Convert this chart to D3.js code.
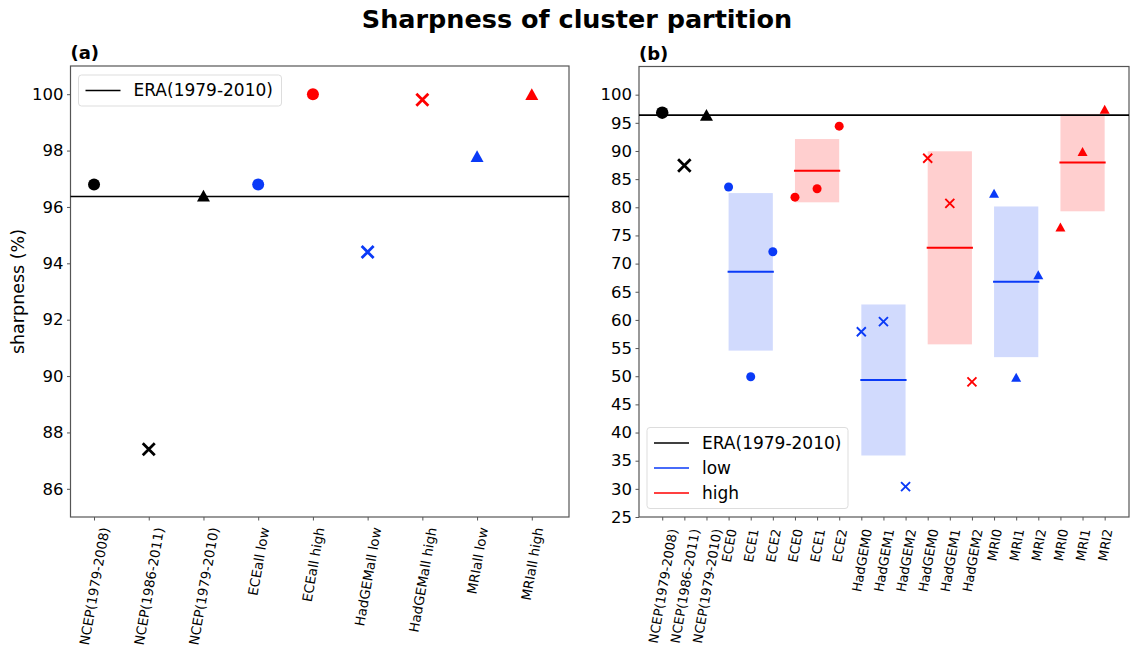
<!DOCTYPE html>
<meta charset="utf-8">
<style>
body { margin: 0; background: #fff; }
text { font-family: "DejaVu Sans", sans-serif; fill: #000; }
.axis path, .axis line { stroke: #555; }
.axis .tick text { font-size: 16.5px; }
.xaxis .tick text { font-size: 13.4px; }
.legend text { font-size: 17px; }
</style>
<svg width="1130" height="647"></svg>
<script src="https://d3js.org/d3.v7.min.js"></script>
<script>

// ---- panel (a) data ----
var catsA = ["NCEP(1979-2008)", "NCEP(1986-2011)", "NCEP(1979-2010)", "ECEall low", "ECEall high",
             "HadGEMall low", "HadGEMall high", "MRIall low", "MRIall high"];
var valsA = [96.8, 87.4, 96.4, 96.8, 100.0, 94.4, 99.8, 97.8, 100.0];
var kindA = ["ref", "ref", "ref", "low", "high", "low", "high", "low", "high"];
var markA = ["o", "x", "^", "o", "o", "x", "x", "^", "^"];
var eraA = 96.37;
var yTicksA = [86, 88, 90, 92, 94, 96, 98, 100];

// ---- panel (b) data ----
var refCatsB = ["NCEP(1979-2008)", "NCEP(1986-2011)", "NCEP(1979-2010)"];
var refValsB = [96.8, 87.4, 96.4];
var refMarkB = ["o", "x", "^"];
var models = ["ECE", "HadGEM", "MRI"];
var modelMark = ["o", "x", "^"];
var eceLow = [83.6, 49.9, 72.1];
var eceHigh = [81.8, 83.3, 94.4];
var hadLow = [57.9, 59.7, 30.4];
var hadHigh = [88.7, 80.7, 49.0];
var mriLow = [82.5, 49.8, 68.0];
var mriHigh = [76.5, 89.9, 97.4];
var eraB = 96.37;
var yTicksB = d3.range(25, 101, 5);

var colors = {ref: "#000000", low: "#0a3af7", high: "#ff0000"};

var svg = d3.select("svg");

// title
svg.append("text")
    .attr("x", 577).attr("y", 28)
    .attr("text-anchor", "middle")
    .style("font-size", "25.5px").style("font-weight", "bold")
    .text("Sharpness of cluster partition");

// matplotlib-like markers, centred on their bounding box
function marker(g, type, x, y, size, color, sw) {
  if (type === "o") {
    g.append("circle").attr("cx", x).attr("cy", y).attr("r", size / 2).attr("fill", color);
  } else if (type === "^") {
    var w = size, h = size * 0.9;
    g.append("path")
        .attr("d", "M" + x + "," + (y - h / 2) + "L" + (x + w / 2) + "," + (y + h / 2) +
                   "L" + (x - w / 2) + "," + (y + h / 2) + "Z")
        .attr("fill", color);
  } else {
    var s = size / 2;
    g.append("path")
        .attr("d", "M" + (x - s) + "," + (y - s) + "L" + (x + s) + "," + (y + s) +
                   "M" + (x - s) + "," + (y + s) + "L" + (x + s) + "," + (y - s))
        .attr("stroke", color).attr("stroke-width", sw).attr("fill", "none");
  }
}

function frame(box, x, y, yTicks, cats, labTop, label) {
  var g = svg.append("g");
  g.append("g").attr("class", "axis")
      .attr("transform", "translate(" + box.l + ",0)")
      .call(d3.axisLeft(y).tickValues(yTicks).tickSize(3.5).tickPadding(3.5))
      .call(a => a.select(".domain").remove());
  var xa = g.append("g").attr("class", "axis xaxis")
      .attr("transform", "translate(0," + box.b + ")")
      .call(d3.axisBottom(x).tickValues(d3.range(cats.length)).tickSize(3.5)
                            .tickFormat(i => cats[i]))
      .call(a => a.select(".domain").remove());
  xa.selectAll(".tick text")
      .attr("text-anchor", "end")
      .attr("dy", "0.35em")
      .attr("y", 0)
      .each(function() {
        var L = this.getComputedTextLength();
        var dx = L * Math.cos(80 * Math.PI / 180) / 2;
        d3.select(this).attr("transform",
            "translate(" + dx + "," + (labTop - box.b) + ") rotate(-80)");
      });
  g.append("rect")
      .attr("x", box.l).attr("y", box.t)
      .attr("width", box.r - box.l).attr("height", box.b - box.t)
      .attr("fill", "none").attr("stroke", "#555").attr("stroke-width", 1.2);
  svg.append("text").attr("x", box.l).attr("y", box.t - 7)
      .style("font-size", "18px").style("font-weight", "bold").text(label);
  return g;
}

function legend(x0, y0, w, items) {
  var g = svg.append("g").attr("class", "legend");
  g.append("rect").attr("x", x0).attr("y", y0).attr("width", w)
      .attr("height", items.length * 25 + 6)
      .attr("rx", 3).attr("fill", "#fff").attr("fill-opacity", 0.85)
      .attr("stroke", "#ddd");
  items.forEach(function(it, i) {
    var yy = y0 + 15.5 + i * 25;
    g.append("line").attr("x1", x0 + 7).attr("x2", x0 + 42)
        .attr("y1", yy).attr("y2", yy)
        .attr("stroke", it.color).attr("stroke-width", 1.6);
    g.append("text").attr("x", x0 + 55).attr("y", yy).attr("dy", "0.35em").text(it.label);
  });
}

// ---------------- panel (a) ----------------
var boxA = {l: 70.5, r: 569, t: 66, b: 517};
var xA = d3.scaleLinear().domain([-0.43, 8.68]).range([boxA.l, boxA.r]);
var yA = d3.scaleLinear().domain([85, 101]).range([boxA.b, boxA.t]);
var gA = frame(boxA, xA, yA, yTicksA, catsA, 527.5, "(a)");

gA.append("line")
    .attr("x1", boxA.l).attr("x2", boxA.r)
    .attr("y1", yA(eraA)).attr("y2", yA(eraA))
    .attr("stroke", "#000").attr("stroke-width", 1.6);

valsA.forEach(function(v, i) {
  var t = markA[i];
  var size = t === "o" ? 12 : (t === "^" ? 13 : 12);
  marker(gA, t, xA(i), yA(v), size, colors[kindA[i]], 2.8);
});

svg.append("text")
    .attr("transform", "translate(24," + ((boxA.t + boxA.b) / 2) + ") rotate(-90)")
    .attr("text-anchor", "middle")
    .style("font-size", "17.5px")
    .text("sharpness (%)");

legend(78.5, 75, 203, [{label: "ERA(1979-2010)", color: "#000"}]);

// ---------------- panel (b) ----------------
var groups = [];
models.forEach(function(m, mi) {
  var lo = [eceLow, hadLow, mriLow][mi], hi = [eceHigh, hadHigh, mriHigh][mi];
  groups.push({model: m, kind: "low", vals: lo, mark: modelMark[mi]});
  groups.push({model: m, kind: "high", vals: hi, mark: modelMark[mi]});
});
var catsB = refCatsB.slice();
groups.forEach(function(gr, gi) {
  gr.start = refCatsB.length + gi * gr.vals.length;
  gr.vals.forEach(function(v, k) { catsB.push(gr.model + k); });
});

var boxB = {l: 639, r: 1129, t: 66.5, b: 517};
var xB = d3.scaleLinear().domain([-1.05, 21.1]).range([boxB.l, boxB.r]);
var yB = d3.scaleLinear().domain([25, 105]).range([boxB.b, boxB.t]);
var gB = frame(boxB, xB, yB, yTicksB, catsB, 529, "(b)");
gB.selectAll(".xaxis .tick text").style("font-size", "13px");

// mean +- std boxes with mean line
groups.forEach(function(gr) {
  var m = d3.mean(gr.vals);
  var sd = Math.sqrt(d3.mean(gr.vals, v => (v - m) * (v - m)));
  var x0 = xB(gr.start), x1 = xB(gr.start + gr.vals.length - 1);
  gB.append("rect")
      .attr("x", x0).attr("width", x1 - x0)
      .attr("y", yB(m + sd)).attr("height", yB(m - sd) - yB(m + sd))
      .attr("fill", colors[gr.kind]).attr("fill-opacity", 0.19);
  gB.append("line")
      .attr("x1", x0 - 1).attr("x2", x1 + 1)
      .attr("y1", yB(m)).attr("y2", yB(m))
      .attr("stroke", colors[gr.kind]).attr("stroke-width", 2);
});

gB.append("line")
    .attr("x1", boxB.l).attr("x2", boxB.r)
    .attr("y1", yB(eraB)).attr("y2", yB(eraB))
    .attr("stroke", "#000").attr("stroke-width", 1.6);

refValsB.forEach(function(v, i) {
  var t = refMarkB[i];
  marker(gB, t, xB(i), yB(v), t === "^" ? 13 : 12.5, colors.ref, 2.8);
});
groups.forEach(function(gr) {
  gr.vals.forEach(function(v, k) {
    var t = gr.mark;
    marker(gB, t, xB(gr.start + k), yB(v), t === "o" ? 9 : (t === "^" ? 10 : 9), colors[gr.kind], 1.9);
  });
});

legend(647, 427.5, 201, [
  {label: "ERA(1979-2010)", color: "#000"},
  {label: "low", color: colors.low},
  {label: "high", color: colors.high}
]);

</script>
